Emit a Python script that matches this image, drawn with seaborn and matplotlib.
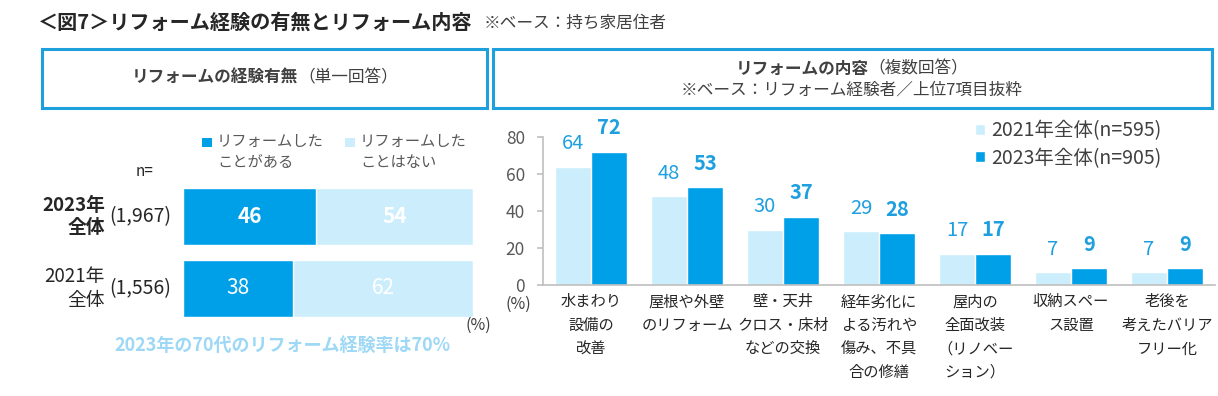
import matplotlib
matplotlib.use('Agg')
import matplotlib.pyplot as plt
from matplotlib.patches import Rectangle
import seaborn as sns
import pandas as pd

# --- left chart data (single answer) ---
rows = ['2023年\n全体', '2021年\n全体']
row_n = ['(1,967)', '(1,556)']
did_reform = [46, 38]
no_reform = [54, 62]
seg_labels = ['リフォームした\nことがある', 'リフォームした\nことはない']

# --- right chart data (multiple answers, top 7) ---
items = ['水まわり\n設備の\n改善',
         '屋根や外壁\nのリフォーム',
         '壁・天井\nクロス・床材\nなどの交換',
         '経年劣化に\nよる汚れや\n傷み、不具\n合の修繕',
         '屋内の\n全面改装\n（リノベー\nション）',
         '収納スペー\nス設置',
         '老後を\n考えたバリア\nフリー化']
pct_2021 = [64, 48, 30, 29, 17, 7, 7]
pct_2023 = [72, 53, 37, 28, 17, 9, 9]
series = ['2021年全体(n=595)', '2023年全体(n=905)']
y_ticks = [0, 20, 40, 60, 80]

DARK = '#00A0E9'
LIGHT = '#CCEEFC'
BORDER = '#1EA0DC'
LABEL_BLUE = '#1E9FDF'
NOTE_BLUE = '#9DD8F6'
TXT = '#404040'
GRID = '#BFBFBF'

W, H = 1218, 396

sns.set_style('white')
plt.rcParams['font.family'] = ['Noto Sans CJK JP', 'DejaVu Sans']

fig = plt.figure(figsize=(W / 100, H / 100), dpi=100)


def px(x, y):
    """pixel position (from top-left) -> figure fraction"""
    return x / W, 1 - y / H


def box(x0, y0, x1, y1):
    fig.add_artist(Rectangle(px(x0, y1), (x1 - x0) / W, (y1 - y0) / H,
                             transform=fig.transFigure, fill=False,
                             ec=BORDER, lw=2.2))


def two_part(cx, cy, bold, normal, size):
    # bold + normal text on one line, centred on cx
    t1 = fig.text(0, 0, bold, weight='bold', fontsize=size, va='center', color=TXT)
    t2 = fig.text(0, 0, normal, fontsize=size, va='center', color=TXT)
    r = fig.canvas.get_renderer()
    w1 = t1.get_window_extent(r).width
    w2 = t2.get_window_extent(r).width
    x0 = cx - (w1 + w2) / 2
    t1.set_position(px(x0, cy))
    t2.set_position(px(x0 + w1, cy))


# title
fig.text(*px(38, 22), '＜図7＞リフォーム経験の有無とリフォーム内容',
         fontsize=14.5, weight='bold', va='center', color='#262626')
fig.text(*px(484, 23), '※ベース：持ち家居住者', fontsize=12, va='center', color=TXT)

# header boxes
box(42, 49, 487, 108)
box(493, 49, 1212, 108)
two_part(265, 78, 'リフォームの経験有無', '（単一回答）', 12)
two_part(852, 69, 'リフォームの内容', '（複数回答）', 12)
fig.text(*px(852, 90), '※ベース：リフォーム経験者／上位7項目抜粋', fontsize=12,
         ha='center', va='center', color=TXT)

# ---------------- left: stacked horizontal bar ----------------
ax1 = fig.add_axes([183 / W, 1 - 324.5 / H, 290 / W, 144 / H])
df_l = pd.DataFrame({'row': rows, 'yes': did_reform,
                     'total': [a + b for a, b in zip(did_reform, no_reform)]})
sns.barplot(data=df_l, y='row', x='total', color=LIGHT, saturation=1,
            width=0.79, errorbar=None, orient='h', ax=ax1)
sns.barplot(data=df_l, y='row', x='yes', color=DARK, saturation=1,
            width=0.79, errorbar=None, orient='h', ax=ax1)
ax1.set_xlim(0, 100)
ax1.set_ylim(1.5, -0.5)
ax1.axis('off')

for i, (yes, no) in enumerate(zip(did_reform, no_reform)):
    w = 'bold' if i == 0 else 'normal'
    ax1.text(yes / 2, i, str(yes), ha='center', va='center', color='white',
             fontsize=15, weight=w)
    ax1.text(yes + no / 2, i, str(no), ha='center', va='center', color='white',
             fontsize=15, weight=w)
    ax1.text((105 - 183) / 290, i, rows[i], transform=ax1.get_yaxis_transform(),
             ha='right', va='center', multialignment='right', fontsize=13.5,
             weight=w, color='#262626', linespacing=1.2)
    ax1.text((109 - 183) / 290, i, row_n[i], transform=ax1.get_yaxis_transform(),
             ha='left', va='center', fontsize=14, color='#262626')

fig.text(*px(145, 172), 'n=', fontsize=11, ha='center', va='center', color='#262626')
for sx, col, lab in zip([202, 345], [DARK, LIGHT], seg_labels):
    fig.add_artist(Rectangle(px(sx, 147), 9.5 / W, 9.5 / H,
                             transform=fig.transFigure, color=col, lw=0))
    fig.text(*px(sx + 15, 152), lab, fontsize=11, va='center', color='#595959',
             linespacing=1.3)

fig.text(*px(478, 325), '(%)', fontsize=11.5, ha='center', va='center', color=TXT)
fig.text(*px(282, 345), '2023年の70代のリフォーム経験率は70%', fontsize=13,
         weight='bold', ha='center', va='center', color=NOTE_BLUE)

# ---------------- right: grouped bar ----------------
ax2 = fig.add_axes([543 / W, 1 - 285 / H, 672 / W, 148 / H])
df_r = pd.DataFrame({'item': items * 2,
                     'pct': pct_2021 + pct_2023,
                     'year': [series[0]] * len(items) + [series[1]] * len(items)})
sns.barplot(data=df_r, x='item', y='pct', hue='year', palette=[LIGHT, DARK],
            saturation=1, width=0.75, errorbar=None, ax=ax2)
ax2.set_ylim(0, 80)
ax2.set_xlim(-0.5, len(items) - 0.5)
ax2.set_yticks(y_ticks)
ax2.set_xlabel('')
ax2.set_ylabel('')
for s in ['top', 'right']:
    ax2.spines[s].set_visible(False)
for s in ['left', 'bottom']:
    ax2.spines[s].set_color(GRID)
    ax2.spines[s].set_linewidth(1.2)
ax2.tick_params(axis='y', left=True, length=4, width=1.2, color=GRID,
                labelcolor='#595959', labelsize=12.5, pad=9)
ax2.tick_params(axis='x', length=0, labelsize=11, pad=6, labelcolor='#262626')
for lbl in ax2.get_xticklabels():
    lbl.set_linespacing(1.5)

for cont, vals, wt in zip(ax2.containers, [pct_2021, pct_2023], ['normal', 'bold']):
    for bar, v in zip(cont, vals):
        ax2.annotate(str(v), (bar.get_x() + bar.get_width() / 2, bar.get_height()),
                     xytext=(0, 12.5), textcoords='offset points', ha='center',
                     va='baseline', fontsize=14.5, weight=wt, color=LABEL_BLUE,
                     annotation_clip=False)

handles, labels = ax2.get_legend_handles_labels()
leg = ax2.legend(handles, labels, loc='upper left', bbox_to_anchor=px(975, 120),
                 bbox_transform=fig.transFigure, frameon=False, fontsize=14,
                 handlelength=0.5, handleheight=0.5, handletextpad=0.35,
                 labelspacing=0.35, borderpad=0, borderaxespad=0)
for t in leg.get_texts():
    t.set_color(TXT)

fig.text(*px(518, 304), '(%)', fontsize=11.5, ha='center', va='center', color=TXT)

fig.savefig('out.png', dpi=100)
